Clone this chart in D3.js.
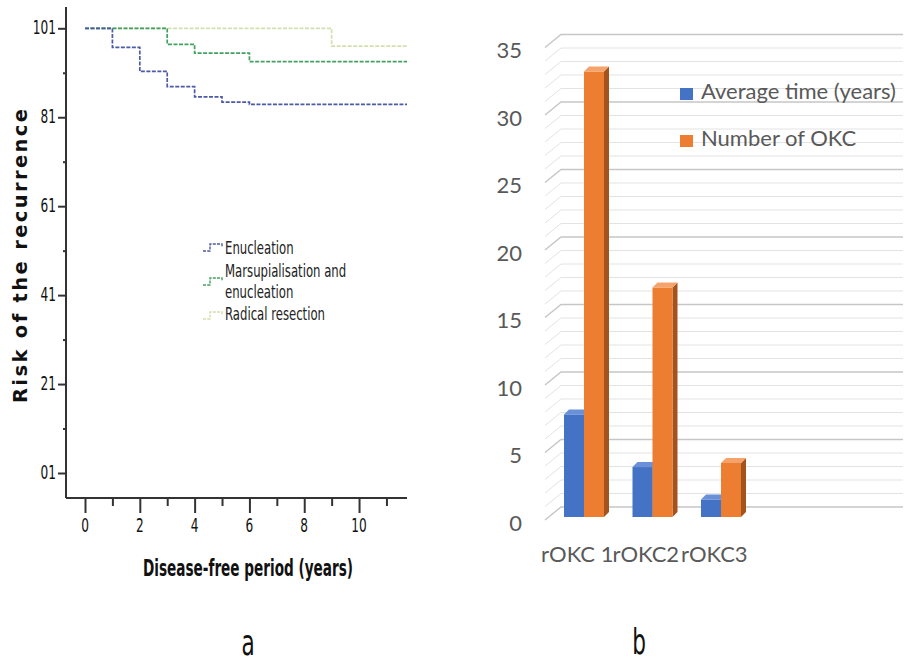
<!DOCTYPE html>
<html>
<head>
<meta charset="utf-8">
<script src="https://cdn.jsdelivr.net/npm/d3@7"></script>
<style>
  body { margin: 0; background: #fff; }
  svg { display: block; }
</style>
</head>
<body>
<svg id="fig" width="920" height="663"></svg>
<script>
// ---- panel a : recurrence curves (step data)
var enucT = [0, 1, 2, 3, 4, 5, 6, 11.75];
var enucS = [101, 96.7, 91.3, 87.9, 85.6, 84.4, 83.9, 83.9];
var marsT = [0, 3, 4, 6, 11.75];
var marsS = [101, 97.4, 95.4, 93.5, 93.5];
var radT = [0, 9, 11.75];
var radS = [101, 97.0, 97.0];
var curveNames = ["Enucleation", "Marsupialisation and enucleation", "Radical resection"];
var yTicksA = [1, 21, 41, 61, 81, 101];
var yTickLabelsA = ["01", "21", "41", "61", "81", "101"];
var xTicksA = [0, 2, 4, 6, 8, 10];

// ---- panel b : 3d column chart
var cats = ["rOKC 1", "rOKC2", "rOKC3"];
var series = ["Average time (years)", "Number of OKC"];
var avgTime = [7.6, 3.7, 1.3];
var numOKC = [33, 17, 4];

var svg = d3.select("#fig");
var narrow = "'Liberation Sans Narrow','Arial Narrow','DejaVu Sans Condensed',sans-serif";

// stretched text helper (the source figure is squashed horizontally)
function stext(g, x, y, s, size, sy, anchor) {
  return g.append("text")
    .attr("transform", "translate(" + x + "," + y + ") scale(1," + sy + ")")
    .attr("text-anchor", anchor || "start")
    .style("font-family", narrow)
    .style("font-size", size + "px")
    .text(s);
}

// =========== panel a
var ga = svg.append("g");
var xa = d3.scaleLinear().domain([0, 11.75]).range([85, 407]);
var ya = d3.scaleLinear().domain([1, 101]).range([473, 28.3]);

var stepLine = d3.line().x(d => xa(d[0])).y(d => ya(d[1])).curve(d3.curveStepAfter);
var curves = [
  { t: enucT, s: enucS, col: "#4d5aa6" },
  { t: marsT, s: marsS, col: "#43a160" },
  { t: radT, s: radS, col: "#d4e0ae" }
];
// light ones first so the darker dashes sit on top
curves.slice().reverse().forEach(function (c) {
  ga.append("path")
    .attr("d", stepLine(c.t.map((t, i) => [t, c.s[i]])))
    .attr("fill", "none")
    .attr("stroke", c.col)
    .attr("stroke-width", 1.7)
    .attr("stroke-dasharray", "4,1.5");
});

// axes
ga.append("line").attr("x1", 66).attr("x2", 66).attr("y1", 7).attr("y2", 498)
  .attr("stroke", "#333").attr("stroke-width", 2);
ga.append("line").attr("x1", 66).attr("x2", 407).attr("y1", 498).attr("y2", 498)
  .attr("stroke", "#333").attr("stroke-width", 2);

var xMajor = ga.append("g").attr("transform", "translate(0,498)")
  .call(d3.axisBottom(xa).tickValues(xTicksA).tickSize(15).tickFormat(""));
var xMinor = ga.append("g").attr("transform", "translate(0,498)")
  .call(d3.axisBottom(xa).tickValues([1, 3, 5, 7, 9, 11]).tickSize(8).tickFormat(""));
var yMajor = ga.append("g").attr("transform", "translate(66,0)")
  .call(d3.axisLeft(ya).tickValues(yTicksA).tickSize(8).tickFormat(""));
var yMinor = ga.append("g").attr("transform", "translate(66,0)")
  .call(d3.axisLeft(ya).tickValues([11, 31, 51, 71, 91]).tickSize(3).tickFormat(""));
[xMajor, xMinor, yMajor, yMinor].forEach(function (a) {
  a.select(".domain").remove();
  a.selectAll("line").attr("stroke", "#333").attr("stroke-width", 2);
});

xTicksA.forEach(function (t) {
  stext(ga, xa(t), 532, String(t), 13.5, 1.45, "middle").attr("fill", "#111");
});
yTicksA.forEach(function (t, i) {
  stext(ga, 56, ya(t) + 6, yTickLabelsA[i], 13.5, 1.5, "end").attr("fill", "#111");
});

stext(ga, 248, 576, "Disease-free period (years)", 17, 1.3, "middle")
  .style("font-weight", "bold").attr("fill", "#111")
  .attr("textLength", 210).attr("lengthAdjust", "spacingAndGlyphs");

ga.append("text")
  .attr("transform", "translate(27,256) rotate(-90)")
  .attr("text-anchor", "middle")
  .style("font-family", "'DejaVu Sans',sans-serif")
  .style("font-weight", "bold")
  .style("font-size", "19.5px")
  .attr("textLength", 294)
  .attr("lengthAdjust", "spacing")
  .attr("fill", "#111")
  .text("Risk of the recurrence");

// legend
var legA = [
  { lines: ["Enucleation"], by: 254, sy: 251, col: curves[0].col },
  { lines: ["Marsupialisation and", "enucleation"], by: 277, sy: 285, col: curves[1].col },
  { lines: ["Radical resection"], by: 320, sy: 319, col: curves[2].col }
];
legA.forEach(function (d) {
  ga.append("path")
    .attr("d", d3.line()([[203, d.sy], [210, d.sy], [210, d.sy - 7], [222, d.sy - 7], [222, d.sy - 4]]))
    .attr("fill", "none").attr("stroke", d.col).attr("stroke-width", 1.4)
    .attr("stroke-dasharray", "3,1.2");
  d.lines.forEach(function (l, j) {
    stext(ga, 225, d.by + j * 21, l, 13, 1.4, "start").attr("fill", "#222");
  });
});

stext(ga, 248, 655, "a", 24, 1.5, "middle").attr("fill", "#111");

// =========== panel b
var gb = svg.append("g");
var yb = d3.scaleLinear().domain([0, 35]).range([517, 44.5]);
var xb = d3.scaleBand().domain(cats).range([548, 753.5]);
var xs = d3.scaleBand().domain(series).range([16, 56]);
var font = "Lato,'Open Sans',sans-serif";

// back wall + side gridlines
yb.ticks(35).forEach(function (v) {
  var yy = yb(v), major = v % 5 === 0;
  var col = major ? "#c6c6c6" : "#e3e3e3";
  gb.append("path")
    .attr("d", d3.line()([[545, yy + 3], [561, yy - 10], [903, yy - 10]]))
    .attr("fill", "none").attr("stroke", col).attr("stroke-width", major ? 1.4 : 1);
});

// y tick labels
gb.selectAll("text.yt").data(yb.ticks(7)).enter().append("text")
  .attr("x", 522).attr("y", d => yb(d) + 5)
  .attr("text-anchor", "end").attr("dominant-baseline", "central")
  .style("font-family", font).style("font-size", "22px").attr("fill", "#595959")
  .text(d => d);

// bars
var dep = 5;
var palette = {
  "Average time (years)": { front: "#4472c4", top: "#6a90d8", side: "#2f528f" },
  "Number of OKC": { front: "#ed7d31", top: "#f5a36a", side: "#a5531c" }
};
function drawBar(x0, w, v, pal) {
  var yt = yb(v), y0 = yb(0);
  gb.append("polygon")
    .attr("points", [[x0 + w, yt], [x0 + w + dep, yt - dep], [x0 + w + dep, y0 - dep], [x0 + w, y0]].join(" "))
    .attr("fill", pal.side);
  gb.append("rect").attr("x", x0).attr("y", yt).attr("width", w).attr("height", y0 - yt)
    .attr("fill", pal.front);
  gb.append("polygon")
    .attr("points", [[x0, yt], [x0 + dep, yt - dep], [x0 + w + dep, yt - dep], [x0 + w, yt]].join(" "))
    .attr("fill", pal.top);
}
cats.forEach(function (c, i) {
  var vals = [avgTime[i], numOKC[i]];
  series.forEach(function (s, j) {
    drawBar(xb(c) + xs(s), xs.bandwidth(), vals[j], palette[s]);
  });
});

// category labels
gb.selectAll("text.cat").data(cats).enter().append("text")
  .attr("x", d => xb(d) + xb.bandwidth() / 2 - 5).attr("y", 562)
  .attr("text-anchor", "middle")
  .style("font-family", font).style("font-size", "22px").attr("fill", "#595959")
  .text(d => d);

// legend
series.forEach(function (s, i) {
  var ly = 88 + i * 47;
  gb.append("rect").attr("x", 680).attr("y", ly).attr("width", 13).attr("height", 12)
    .attr("fill", palette[s].front);
  gb.append("text").attr("x", 701).attr("y", ly + 11)
    .style("font-family", font).style("font-size", "22px").attr("fill", "#595959")
    .text(s);
});

stext(gb, 639, 654, "b", 24, 1.5, "middle").attr("fill", "#111");
</script>
</body>
</html>
